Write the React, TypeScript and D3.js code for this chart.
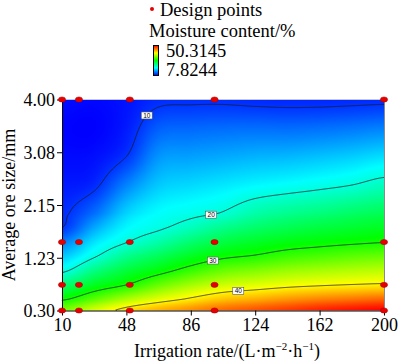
import React, { useEffect, useRef } from 'react';
import * as d3 from 'd3';

// axes
const xTicks = [10, 48, 86, 124, 162, 200];
const yTicks = [0.3, 1.225, 2.15, 3.075, 4.0];
const yTickLabels = ['0.30', '1.23', '2.15', '3.08', '4.00'];

// response surface: one list per irrigation rate, ore size bottom -> top
const gridX = [10, 29, 48, 67, 86, 105, 124, 143, 162, 181, 200];
const gridY = [0.3, 0.5, 0.75, 1.0, 1.25, 1.5, 1.75, 2.0, 2.5, 3.0, 3.5, 4.0];
const moisture = [
  [34.0, 29.5, 24.3, 19.4, 16.2, 13.1, 10.0, 9.6, 8.8, 8.2, 7.9, 8.3],
  [38.0, 32.8, 27.7, 23.6, 19.7, 17.3, 14.8, 12.4, 9.5, 8.4, 7.82, 8.1],
  [41.0, 36.1, 30.0, 26.6, 23.2, 19.9, 18.2, 16.6, 13.3, 10.0, 8.9, 8.6],
  [43.0, 38.5, 33.3, 28.8, 25.5, 22.1, 19.6, 18.5, 16.2, 14.0, 11.7, 9.6],
  [44.5, 40.4, 35.8, 31.3, 27.7, 24.5, 21.3, 19.3, 16.9, 14.5, 12.1, 9.7],
  [46.0, 42.1, 37.6, 33.4, 29.4, 26.3, 23.3, 20.2, 17.5, 14.9, 12.3, 9.7],
  [47.0, 43.0, 38.4, 34.4, 30.3, 27.5, 24.7, 22.0, 18.2, 15.3, 12.4, 9.5],
  [48.0, 44.0, 39.2, 35.4, 31.5, 28.4, 25.7, 23.1, 18.7, 15.5, 12.3, 9.4],
  [49.0, 44.8, 39.7, 36.0, 32.2, 29.0, 26.5, 23.9, 19.3, 15.9, 12.5, 9.4],
  [49.7, 45.4, 40.1, 36.5, 32.9, 29.5, 27.1, 24.8, 20.0, 16.4, 12.8, 9.5],
  [50.3, 46.0, 40.4, 36.9, 33.4, 29.9, 27.7, 25.5, 21.1, 17.1, 13.2, 9.6],
];

const designX = [10, 20, 50, 100, 200];
const designY = [0.3, 0.75, 1.5, 4.0];

const levels = [10, 20, 30, 40];
const labelAt = [60, 98, 99, 114]; // irrigation rate where each level label sits

const minVal = 7.8244;
const maxVal = 50.3145;
const colors = ['#0000ff', '#00ffff', '#00ff00', '#ffff00', '#ff0000'];

const serif = '"Liberation Serif", "Times New Roman", serif';

const fracIndex = (arr: number[], v: number) => {
  if (v <= arr[0]) return 0;
  if (v >= arr[arr.length - 1]) return arr.length - 1;
  let k = d3.bisectRight(arr, v) - 1;
  return k + (v - arr[k]) / (arr[k + 1] - arr[k]);
};

const cr = (p0: number, p1: number, p2: number, p3: number, t: number) =>
  0.5 * (2 * p1 + (-p0 + p2) * t + (2 * p0 - 5 * p1 + 4 * p2 - p3) * t * t + (-p0 + 3 * p1 - 3 * p2 + p3) * t * t * t);

const cell = (i: number, j: number) => {
  const ii = Math.max(0, Math.min(gridX.length - 1, i));
  const jj = Math.max(0, Math.min(gridY.length - 1, j));
  return moisture[ii][jj];
};

const field = (xv: number, yv: number) => {
  const fi = fracIndex(gridX, xv);
  const fj = fracIndex(gridY, yv);
  const i = Math.min(Math.floor(fi), gridX.length - 2);
  const j = Math.min(Math.floor(fj), gridY.length - 2);
  const ti = fi - i, tj = fj - j;
  const r = [-1, 0, 1, 2].map(dj => cr(cell(i - 1, j + dj), cell(i, j + dj), cell(i + 1, j + dj), cell(i + 2, j + dj), ti));
  return cr(r[0], r[1], r[2], r[3], tj);
};

const App = () => {
  const ref = useRef<SVGSVGElement>(null);

  useEffect(() => {
    const width = 400, height = 362;
    const left = 62, right = 384, top = 99.5, bottom = 310.5;

    const x = d3.scaleLinear().domain([10, 200]).range([left, right]);
    const y = d3.scaleLinear().domain([0.3, 4.0]).range([bottom, top]);
    const color = d3.scaleLinear<string>()
      .domain(d3.range(5).map(k => minVal + (k * (maxVal - minVal)) / 4))
      .range(colors)
      .interpolate(d3.interpolateRgb)
      .clamp(true);

    const svg = d3.select(ref.current);
    svg.selectAll('*').remove();

    // raster of the surface
    const W = Math.round(right - left), H = Math.round(bottom - top);
    const values = new Float64Array(W * H);
    const canvas = document.createElement('canvas');
    canvas.width = W;
    canvas.height = H;
    const ctx = canvas.getContext('2d')!;
    const img = ctx.createImageData(W, H);
    for (let py = 0; py < H; py++) {
      const yv = y.invert(top + py + 0.5);
      for (let px = 0; px < W; px++) {
        const v = field(x.invert(left + px + 0.5), yv);
        values[py * W + px] = v;
        const c = d3.rgb(color(v));
        const o = (py * W + px) * 4;
        img.data[o] = c.r; img.data[o + 1] = c.g; img.data[o + 2] = c.b; img.data[o + 3] = 255;
      }
    }
    ctx.putImageData(img, 0, 0);
    svg.append('image')
      .attr('x', left).attr('y', top)
      .attr('width', W).attr('height', H)
      .attr('preserveAspectRatio', 'none')
      .attr('href', canvas.toDataURL());

    // thin frame on top and right
    svg.append('line').attr('x1', left).attr('x2', right).attr('y1', top).attr('y2', top)
      .attr('stroke', '#c8c8c8').attr('stroke-width', 1);
    svg.append('line').attr('x1', right + 0.5).attr('x2', right + 0.5).attr('y1', top).attr('y2', bottom)
      .attr('stroke', '#8a8a8a').attr('stroke-width', 1);

    // contour lines, without the pieces that run along the frame
    const side = (p: number[]) => (p[0] <= 0 ? 'L' : p[0] >= W ? 'R' : p[1] <= 0 ? 'T' : p[1] >= H ? 'B' : '');
    const contours = d3.contours().size([W, H]).thresholds(levels)(Array.from(values));
    const line = d3.line<number[]>().x(p => left + p[0]).y(p => top + p[1]);
    contours.forEach(c => {
      c.coordinates.forEach(poly => poly.forEach(ring => {
        const pieces: number[][][] = [];
        let run: number[][] = [];
        const flush = () => { if (run.length > 1) pieces.push(run); run = []; };
        for (let k = 0; k < ring.length; k++) {
          const p = ring[k];
          if (run.length) {
            const s = side(run[run.length - 1]);
            if (s && s === side(p)) flush();
          }
          run.push(p);
        }
        flush();
        pieces.forEach(pc => svg.append('path')
          .attr('d', line(pc))
          .attr('fill', 'none')
          .attr('stroke', '#1a1a2a')
          .attr('stroke-width', 0.8));
      }));
    });

    // level labels
    levels.forEach((lv, k) => {
      const xv = labelAt[k];
      let yv = 0.3;
      for (let t = 4.0; t > 0.3; t -= 0.002) {
        if (field(xv, t) >= lv) { yv = t; break; }
      }
      const g = svg.append('g').attr('transform', `translate(${x(xv)},${y(yv)})`);
      g.append('rect').attr('x', -5.5).attr('y', -3.5).attr('width', 11).attr('height', 7)
        .attr('fill', '#fff').attr('stroke', '#555').attr('stroke-width', 0.6);
      g.append('text').attr('text-anchor', 'middle').attr('y', 2.3)
        .attr('font-family', 'Arial, "Liberation Sans", sans-serif').attr('font-size', 6.5)
        .text(lv);
    });

    // axes
    const yAxis = d3.axisLeft(y).tickValues(yTicks).tickFormat((d, i) => yTickLabels[i]).tickSize(5).tickSizeOuter(0).tickPadding(2);
    const xAxis = d3.axisBottom(x).tickValues(xTicks).tickFormat(d3.format('d')).tickSize(5).tickSizeOuter(0).tickPadding(3);
    const gy = svg.append('g').attr('transform', `translate(${left},0)`).call(yAxis);
    const gx = svg.append('g').attr('transform', `translate(0,${bottom})`).call(xAxis);
    [gx, gy].forEach(g => {
      g.selectAll('text').attr('font-family', serif).attr('font-size', 18).attr('fill', '#000');
      g.selectAll('line,path').attr('stroke', '#000');
    });
    gy.selectAll('text').attr('dy', '0.36em');

    // design points
    designY.forEach(dy => designX.forEach(dx => {
      svg.append('ellipse').attr('cx', x(dx)).attr('cy', y(dy)).attr('rx', 3.6).attr('ry', 2.6)
        .attr('fill', '#e80000').attr('stroke', '#a00000').attr('stroke-width', 0.5);
    }));

    // axis titles
    const xt = svg.append('text').attr('x', (left + right) / 2 + 4).attr('y', 357)
      .attr('text-anchor', 'middle').attr('font-family', serif).attr('font-size', 18);
    xt.append('tspan').text('Irrigation rate/(L\u00b7m');
    xt.append('tspan').attr('font-size', 11).attr('dy', -7).text('\u22122');
    xt.append('tspan').attr('dy', 7).text('\u00b7h');
    xt.append('tspan').attr('font-size', 11).attr('dy', -7).text('\u22121');
    xt.append('tspan').attr('dy', 7).text(')');

    svg.append('text').attr('transform', `translate(15,${(top + bottom) / 2}) rotate(-90)`)
      .attr('text-anchor', 'middle').attr('font-family', serif).attr('font-size', 18)
      .text('Average ore size/mm');

    // legend
    svg.append('circle').attr('cx', 152).attr('cy', 9).attr('r', 2).attr('fill', '#e80000');
    svg.append('text').attr('x', 160).attr('y', 15.5).attr('font-family', serif).attr('font-size', 18.5).text('Design points');
    svg.append('text').attr('x', 149).attr('y', 36.5).attr('font-family', serif).attr('font-size', 18.5).text('Moisture content/%');

    const grad = svg.append('defs').append('linearGradient').attr('id', 'cbar')
      .attr('x1', 0).attr('y1', 1).attr('x2', 0).attr('y2', 0);
    colors.forEach((c, k) => grad.append('stop').attr('offset', k / (colors.length - 1)).attr('stop-color', c));
    svg.append('rect').attr('x', 153.5).attr('y', 45.5).attr('width', 5).attr('height', 30)
      .attr('fill', 'url(#cbar)').attr('stroke', '#000').attr('stroke-width', 1);
    svg.append('text').attr('x', 166).attr('y', 56.5).attr('font-family', serif).attr('font-size', 18.5).text(String(maxVal));
    svg.append('text').attr('x', 166).attr('y', 76).attr('font-family', serif).attr('font-size', 18.5).text(String(minVal));

    svg.attr('width', width).attr('height', height);
  }, []);

  return (
    <div style={{ position: 'absolute', left: 0, top: 0 }}>
      <svg ref={ref} width={400} height={362} style={{ display: 'block', background: '#fff' }} />
    </div>
  );
};

export default App;
